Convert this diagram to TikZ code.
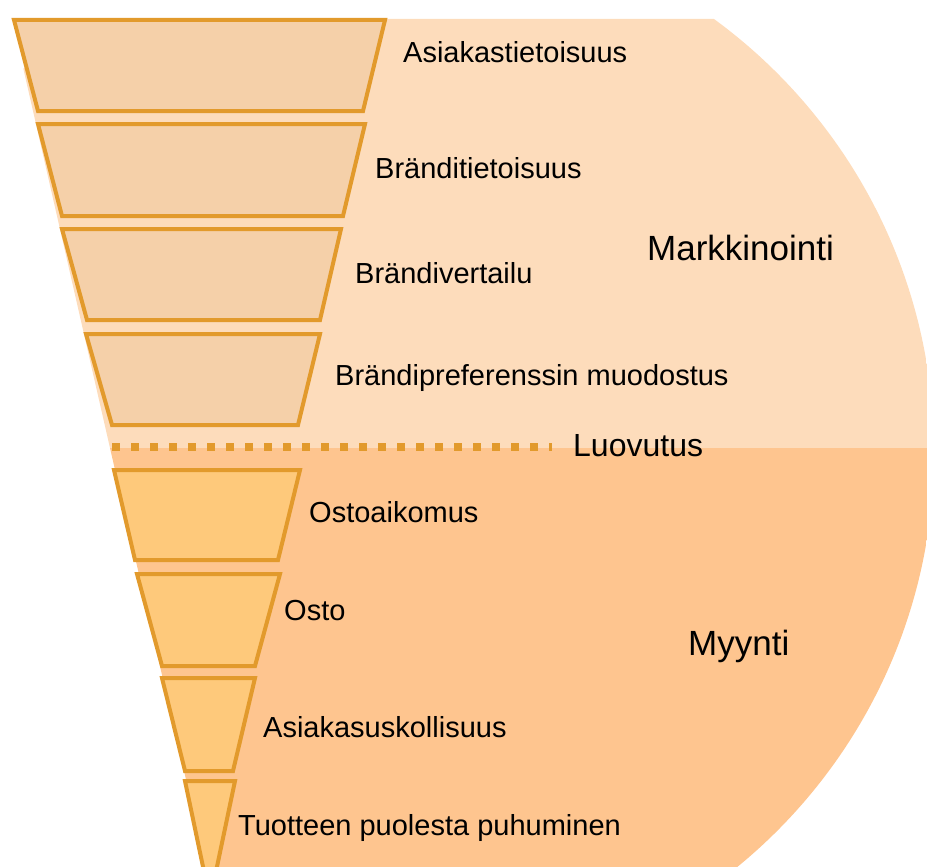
\documentclass[tikz,border=0pt]{standalone}
\usepackage{fontspec}
\setmainfont{Liberation Sans}
\definecolor{bgtop}{HTML}{FDDCBB}
\definecolor{bglo}{HTML}{FEC58F}
\definecolor{trapup}{HTML}{F5D0A9}
\definecolor{traplo}{HTML}{FEC97B}
\definecolor{edge}{HTML}{E29A2C}
\begin{document}
\begin{tikzpicture}[x=1pt,y=-1pt,
  stage/.style={draw=edge, line width=4pt, line join=miter},
  upper/.style={stage, fill=trapup},
  lower/.style={stage, fill=traplo},
  lbl/.style={anchor=base west, inner sep=0pt, font=\fontsize{29}{34}\selectfont},
  big/.style={anchor=base west, inner sep=0pt, font=\fontsize{35}{40}\selectfont}]
\useasboundingbox (0,0) rectangle (927,867);
% background
\begin{scope}
\clip (398,452) circle [radius=536pt];
\fill[bgtop] (12,19) -- (960,19) -- (960,448) -- (110,448) -- cycle;
\fill[bglo] (110,448) -- (960,448) -- (960,880) -- (209,880) -- cycle;
\end{scope}
% funnel stages
\draw[upper] (14,20) -- (385,20) -- (363,111) -- (38,111) -- cycle;
\draw[upper] (38,124) -- (365,124) -- (343,216) -- (62,216) -- cycle;
\draw[upper] (62,229) -- (341,229) -- (320,320) -- (87,320) -- cycle;
\draw[upper] (86,334) -- (320,334) -- (298,425) -- (112,425) -- cycle;
\draw[lower] (114,470) -- (300,470) -- (278,560) -- (135,560) -- cycle;
\draw[lower] (137,574) -- (280,574) -- (255,666) -- (162,666) -- cycle;
\draw[lower] (162,678) -- (255,678) -- (233,771) -- (185,771) -- cycle;
\draw[lower] (185,781) -- (235,781) -- (210,900) -- cycle;
% hand-over line
\coordinate (d1) at (112,447);
\coordinate (d2) at (552,447);
\draw[edge, line width=8pt, dash pattern=on 8pt off 11pt] (d1) -- (d2);
% labels
\node[lbl] (l1) at (403,63) {Asiakastietoisuus};
\node[lbl] (l2) at (375,178) {Bränditietoisuus};
\node[lbl] (l3) at (355,283) {Brändivertailu};
\node[lbl] (l4) at (335,385) {Brändipreferenssin muodostus};
\node[lbl, font=\fontsize{32}{36}\selectfont] (luo) at (573,456) {Luovutus};
\node[lbl] (l5) at (309,522) {Ostoaikomus};
\node[lbl] (l6) at (284,620) {Osto};
\node[lbl] (l7) at (263,737) {Asiakasuskollisuus};
\node[lbl] (l8) at (238,835) {Tuotteen puolesta puhuminen};
\node[big] (mk) at (647,260) {Markkinointi};
\node[big] (my) at (688,655) {Myynti};
\end{tikzpicture}
\end{document}
